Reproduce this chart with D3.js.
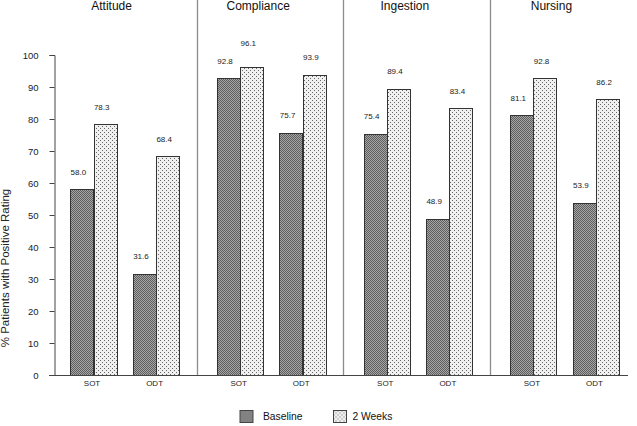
<!DOCTYPE html>
<html>
<head>
<meta charset="utf-8">
<script src="https://cdn.jsdelivr.net/npm/d3@7"></script>
<style>
  html, body { margin: 0; padding: 0; background: #fff; }
  svg { display: block; font-family: "Liberation Sans", Arial, sans-serif; }
</style>
</head>
<body>
<svg id="chart" width="637" height="426"></svg>
<script>
const categories = ["Attitude", "Compliance", "Ingestion", "Nursing"];
const groups = ["SOT", "ODT"];
const seriesNames = ["Baseline", "2 Weeks"];
// values per category: [SOT, ODT]
const baseline = [[58.0, 31.6], [92.8, 75.7], [75.4, 48.9], [81.1, 53.9]];
const twoWeeks = [[78.3, 68.4], [96.1, 93.9], [89.4, 83.4], [92.8, 86.2]];
const yTicks = [0, 10, 20, 30, 40, 50, 60, 70, 80, 90, 100];
const yLabel = "% Patients with Positive Rating";

const svg = d3.select("#chart");
const defs = svg.append("defs");

// Baseline pattern: dark checkerboard
const p1 = defs.append("pattern").attr("id", "patBase")
  .attr("patternUnits", "userSpaceOnUse").attr("width", 2).attr("height", 2);
p1.append("rect").attr("width", 2).attr("height", 2).attr("fill", "#a6a6a6");
p1.append("rect").attr("x", 0).attr("y", 0).attr("width", 1).attr("height", 1).attr("fill", "#5e5e5e");
p1.append("rect").attr("x", 1).attr("y", 1).attr("width", 1).attr("height", 1).attr("fill", "#5e5e5e");

// 2 Weeks pattern: white with dots
const p2 = defs.append("pattern").attr("id", "patWeeks")
  .attr("patternUnits", "userSpaceOnUse").attr("width", 4).attr("height", 4);
p2.append("rect").attr("width", 4).attr("height", 4).attr("fill", "#f0f0f0");
p2.append("rect").attr("x", 0).attr("y", 0).attr("width", 1).attr("height", 1).attr("fill", "#666");
p2.append("rect").attr("x", 2).attr("y", 2).attr("width", 1).attr("height", 1).attr("fill", "#666");

const fills = { "Baseline": "url(#patBase)", "2 Weeks": "url(#patWeeks)" };

const y = d3.scaleLinear().domain([0, 100]).range([375, 55]);
const xPanel = d3.scaleBand().domain(categories).range([50, 636.5]);
const xGroup = d3.scaleBand().domain(groups).range([0, xPanel.bandwidth()])
  .paddingInner(0.256).paddingOuter(0.3);
const xSeries = d3.scaleBand().domain(seriesNames).range([0, xGroup.bandwidth()]);

// Panel dividers
svg.append("g").selectAll("line")
  .data(categories.slice(1))
  .join("line")
  .attr("x1", d => Math.round(xPanel(d)) + 0.5)
  .attr("x2", d => Math.round(xPanel(d)) + 0.5)
  .attr("y1", 0).attr("y2", y(0))
  .attr("stroke", "#8c8c8c").attr("stroke-width", 1.3);

// Panel titles
svg.append("g").selectAll("text")
  .data(categories)
  .join("text")
  .attr("x", d => xPanel(d) + xPanel.bandwidth() * 0.42)
  .attr("y", 10)
  .attr("text-anchor", "middle")
  .attr("font-size", 12)
  .attr("fill", "#111")
  .text(d => d);

// Build bar data
const bars = [];
categories.forEach((c, ci) => {
  groups.forEach((g, gi) => {
    bars.push({ cat: c, group: g, series: "Baseline", value: baseline[ci][gi] });
    bars.push({ cat: c, group: g, series: "2 Weeks", value: twoWeeks[ci][gi] });
  });
});
const bx = d => xPanel(d.cat) + xGroup(d.group) + xSeries(d.series);

svg.append("g").selectAll("rect")
  .data(bars)
  .join("rect")
  .attr("x", d => Math.round(bx(d) + 1.5) + 0.5)
  .attr("y", d => Math.round(y(d.value)) + 0.5)
  .attr("width", Math.round(xSeries.bandwidth()))
  .attr("height", d => Math.round(y(0)) - Math.round(y(d.value)))
  .attr("fill", d => fills[d.series])
  .attr("stroke", "#333")
  .attr("stroke-width", 1);

// Value labels with simple collision nudge
bars.forEach(d => {
  let ly = y(d.value) - 14.5;
  if (d.series === "2 Weeks") {
    const b = bars.find(e => e.cat === d.cat && e.group === d.group && e.series === "Baseline");
    const by = y(b.value) - 14.5;
    if (Math.abs(by - ly) < 12) ly = by - 18;
  }
  d.ly = ly;
});
svg.append("g").selectAll("text")
  .data(bars)
  .join("text")
  .attr("x", d => bx(d) + 1.5 + xSeries.bandwidth() / 2 - 3.5)
  .attr("y", d => d.ly)
  .attr("text-anchor", "middle")
  .attr("font-size", 8)
  .attr("fill", "#222")
  .text(d => d.value.toFixed(1));

// Y axis
const yAxis = d3.axisLeft(y).tickValues(yTicks).tickSize(5).tickPadding(11);
const gy = svg.append("g").attr("transform", "translate(54.5,0)").call(yAxis);
gy.select(".domain").attr("stroke", "#444");
gy.selectAll(".tick line").attr("stroke", "#444");
gy.selectAll(".tick text").attr("font-size", 9.5).attr("fill", "#222")
  .attr("font-family", "Liberation Sans, Arial, sans-serif");

// X axis line
svg.append("line")
  .attr("x1", 49).attr("x2", 628)
  .attr("y1", Math.round(y(0)) + 0.5).attr("y2", Math.round(y(0)) + 0.5)
  .attr("stroke", "#444").attr("stroke-width", 1);

// Group labels
const glabels = [];
categories.forEach(c => groups.forEach(g => glabels.push({ cat: c, group: g })));
svg.append("g").selectAll("text")
  .data(glabels)
  .join("text")
  .attr("x", d => xPanel(d.cat) + xGroup(d.group) + xGroup.bandwidth() / 2)
  .attr("y", y(0) + 10.5)
  .attr("text-anchor", "middle")
  .attr("font-size", 8)
  .attr("fill", "#222")
  .text(d => d.group);

// Y label
svg.append("text")
  .attr("transform", "translate(8.5,268) rotate(-90)")
  .attr("text-anchor", "middle")
  .attr("font-size", 11.5)
  .attr("fill", "#222")
  .text(yLabel);

// Legend
const legendX = [240, 333.5];
const lg = svg.append("g").selectAll("g")
  .data(seriesNames)
  .join("g")
  .attr("transform", (d, i) => `translate(${legendX[i]},410.5)`);
lg.append("rect")
  .attr("width", 13).attr("height", 12)
  .attr("fill", d => fills[d])
  .attr("stroke", "#444").attr("stroke-width", 1);
lg.append("text")
  .attr("x", (d, i) => i === 0 ? 23 : 19)
  .attr("y", 9.5)
  .attr("font-size", 10.3)
  .attr("fill", "#111")
  .text(d => d);
</script>
</body>
</html>
